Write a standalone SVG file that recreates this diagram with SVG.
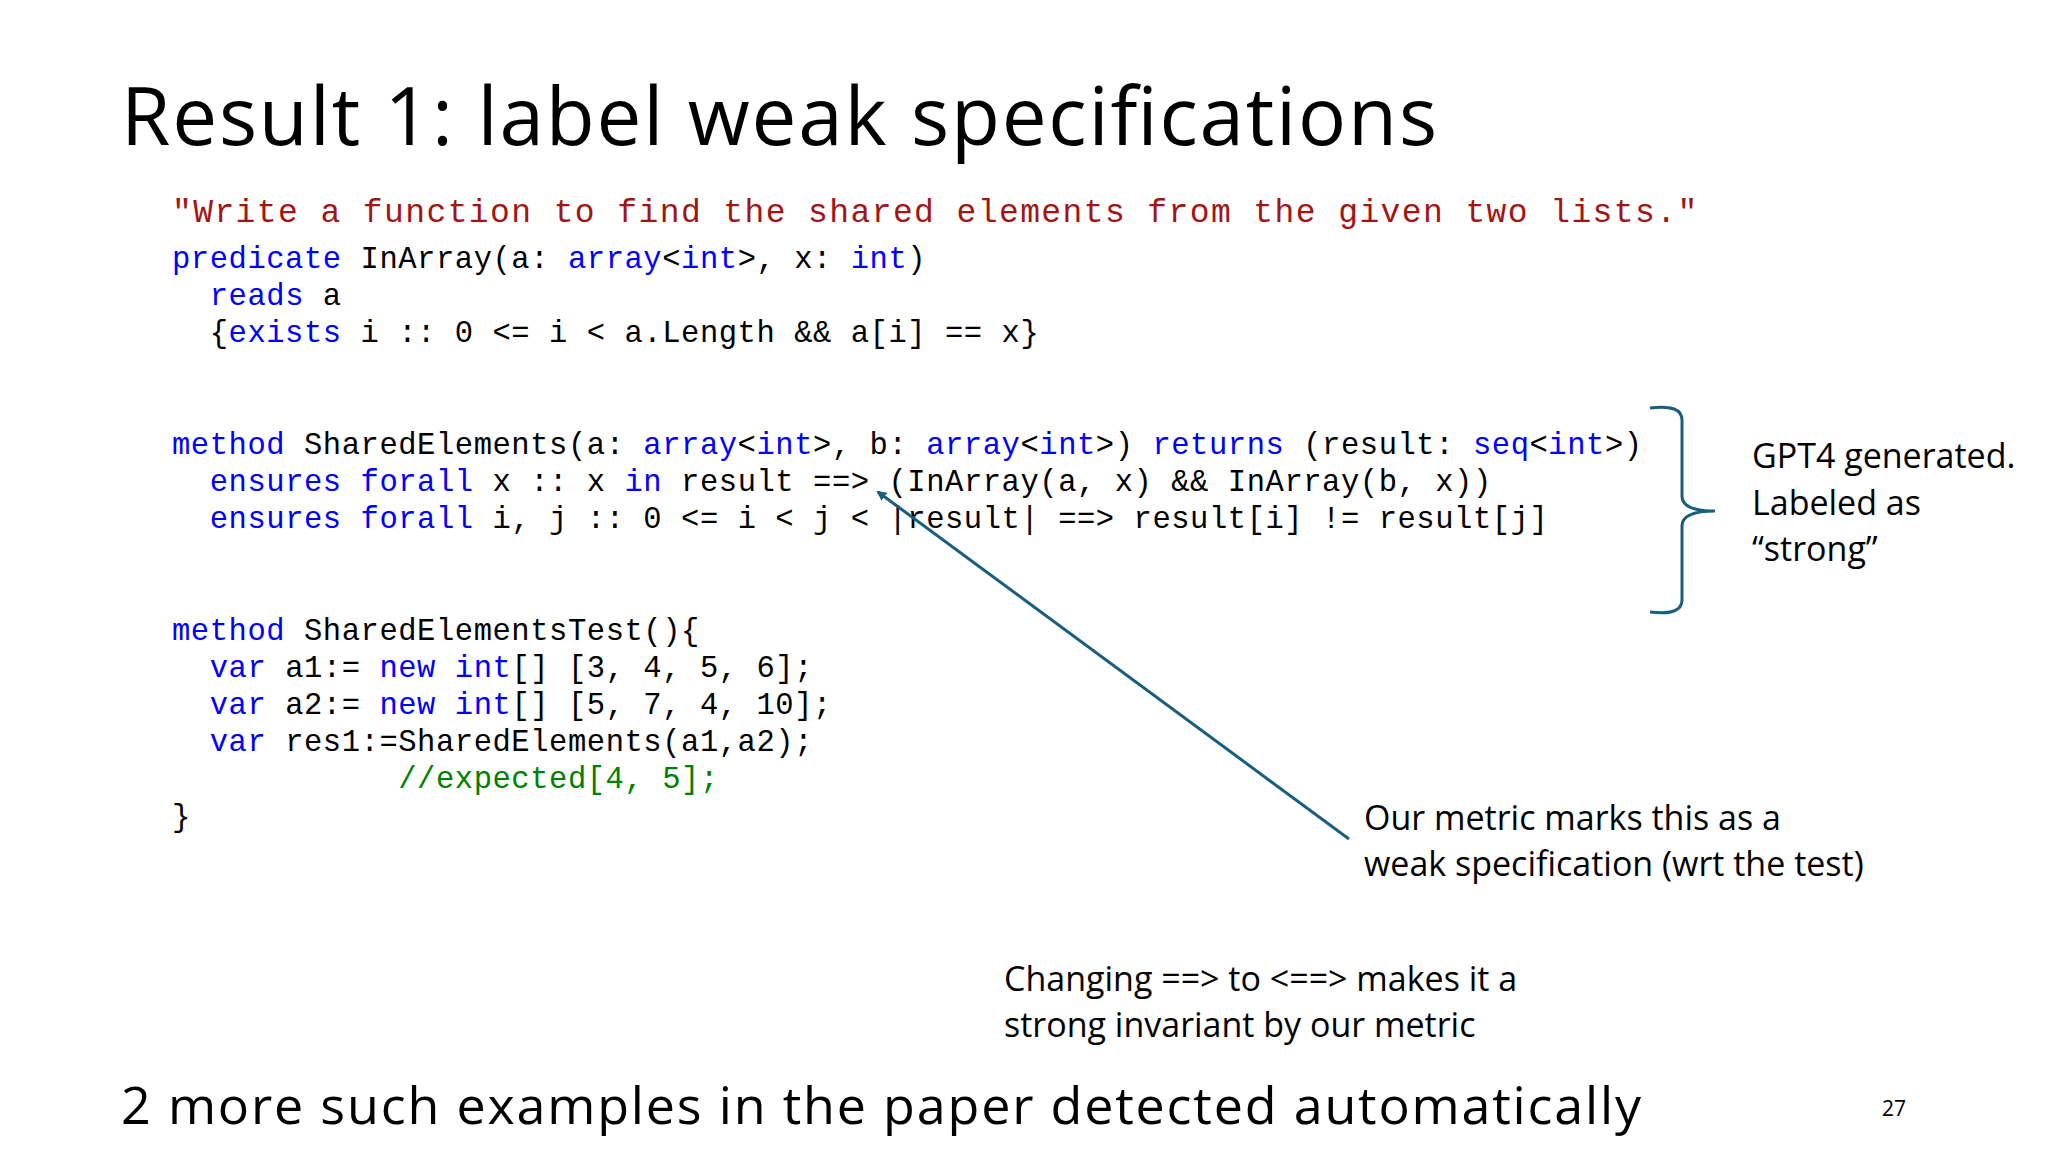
<svg xmlns="http://www.w3.org/2000/svg" width="2048" height="1152" viewBox="0 0 2048 1152">
<style>
.c{font-family:"Liberation Mono",monospace;font-size:30.5px;letter-spacing:0.55px;fill:#000;white-space:pre}
.q{font-size:33px;letter-spacing:1.4px}
.k{fill:#0000ff}.r{fill:#a31515}.g{fill:#008000}
.s{font-family:"Open Sans","Liberation Sans",sans-serif;fill:#000}
.t{font-size:34px}
</style>
<defs><marker id="ah" markerWidth="10" markerHeight="10" refX="8" refY="5" orient="auto" markerUnits="userSpaceOnUse"><path d="M0,0L10,5L0,10z" fill="#1a5e7e"/></marker></defs>
<rect width="2048" height="1152" fill="#fff"/>
<text class="s" x="121" y="145" font-size="80" textLength="1316">Result 1: label weak specifications</text>
<g id="code">
<text class="c q r" x="172" y="222">"Write a function to find the shared elements from the given two lists."</text>
<text class="c" x="172" y="268"><tspan class="k">predicate</tspan> InArray(a: <tspan class="k">array</tspan>&lt;<tspan class="k">int</tspan>&gt;, x: <tspan class="k">int</tspan>)</text>
<text class="c" x="172" y="305">  <tspan class="k">reads</tspan> a</text>
<text class="c" x="172" y="342">  {<tspan class="k">exists</tspan> i :: 0 &lt;= i &lt; a.Length &amp;&amp; a[i] == x}</text>
<text class="c" x="172" y="454"><tspan class="k">method</tspan> SharedElements(a: <tspan class="k">array</tspan>&lt;<tspan class="k">int</tspan>&gt;, b: <tspan class="k">array</tspan>&lt;<tspan class="k">int</tspan>&gt;) <tspan class="k">returns</tspan> (result: <tspan class="k">seq</tspan>&lt;<tspan class="k">int</tspan>&gt;)</text>
<text class="c" x="172" y="491">  <tspan class="k">ensures</tspan> <tspan class="k">forall</tspan> x :: x <tspan class="k">in</tspan> result ==&gt; (InArray(a, x) &amp;&amp; InArray(b, x))</text>
<text class="c" x="172" y="528">  <tspan class="k">ensures</tspan> <tspan class="k">forall</tspan> i, j :: 0 &lt;= i &lt; j &lt; |result| ==&gt; result[i] != result[j]</text>
<text class="c" x="172" y="640"><tspan class="k">method</tspan> SharedElementsTest(){</text>
<text class="c" x="172" y="677">  <tspan class="k">var</tspan> a1:= <tspan class="k">new</tspan> <tspan class="k">int</tspan>[] [3, 4, 5, 6];</text>
<text class="c" x="172" y="714">  <tspan class="k">var</tspan> a2:= <tspan class="k">new</tspan> <tspan class="k">int</tspan>[] [5, 7, 4, 10];</text>
<text class="c" x="172" y="751">  <tspan class="k">var</tspan> res1:=SharedElements(a1,a2);</text>
<text class="c g" x="172" y="788">            //expected[4, 5];</text>
<text class="c" x="172" y="826">}</text>
</g>
<g id="brace"><path d="M1650,408 Q1682,404 1682,420 L1682,496 Q1682,511 1715,511 Q1682,511 1682,526 L1682,600 Q1682,616 1650,612" fill="none" stroke="#1a5e7e" stroke-width="3"/></g>
<g id="connectors"><line x1="1349" y1="839" x2="878" y2="492" stroke="#1a5e7e" stroke-width="3" marker-end="url(#ah)"/></g>
<g id="gpt4">
<text class="s t" x="1752" y="468">GPT4 generated.</text>
<text class="s t" x="1752" y="515">Labeled as</text>
<text class="s t" x="1752" y="561">“strong”</text>
</g>
<g id="metric">
<text class="s t" x="1364" y="830">Our metric marks this as a</text>
<text class="s t" x="1364" y="876">weak specification (wrt the test)</text>
</g>
<g id="changing">
<text class="s t" x="1004" y="991">Changing ==&gt; to  &lt;==&gt; makes it a</text>
<text class="s t" x="1004" y="1037">strong invariant by our metric</text>
</g>
<text class="s" x="121" y="1124" font-size="52" textLength="1520">2 more such examples in the paper detected automatically</text>
<text class="s" x="1882" y="1116" font-size="21" fill="#999">27</text>
</svg>
